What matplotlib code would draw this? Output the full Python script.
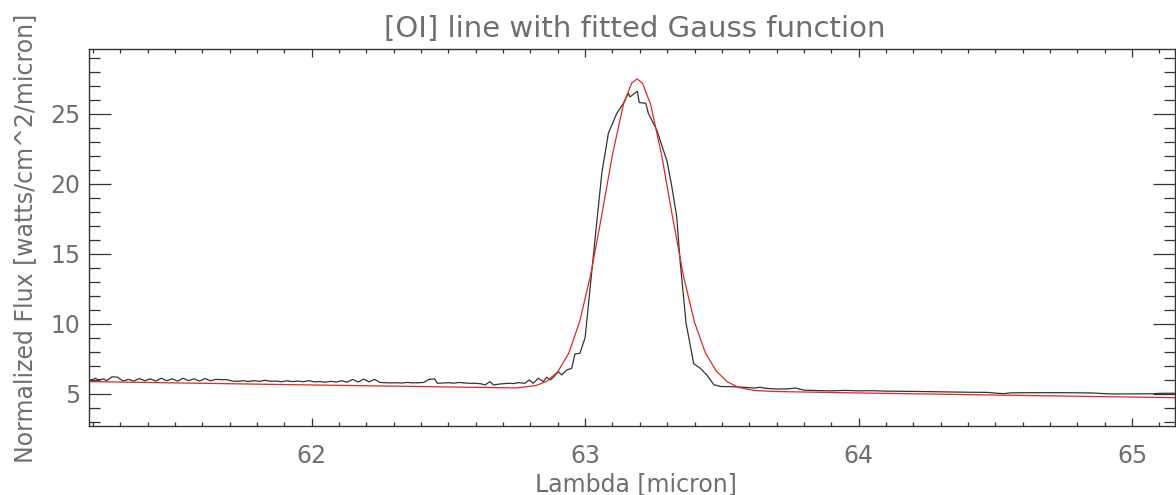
import matplotlib
matplotlib.use("Agg")
import matplotlib.pyplot as plt
from matplotlib.ticker import MultipleLocator

lam_data = [
    61.19, 61.20, 61.21, 61.22, 61.24, 61.25, 61.27, 61.29, 61.31, 61.33,
    61.35, 61.37, 61.39, 61.41, 61.43, 61.45, 61.47, 61.49, 61.51, 61.53,
    61.55, 61.57, 61.59, 61.61, 61.63, 61.65, 61.67, 61.69, 61.71, 61.73,
    61.75, 61.77, 61.79, 61.81, 61.83, 61.85, 61.87, 61.89, 61.91, 61.93,
    61.95, 61.97, 61.99, 62.01, 62.03, 62.05, 62.07, 62.09, 62.11, 62.13,
    62.15, 62.17, 62.19, 62.21, 62.23, 62.25, 62.27, 62.29, 62.31, 62.33,
    62.35, 62.37, 62.39, 62.41, 62.43, 62.45, 62.46, 62.48, 62.50, 62.52,
    62.54, 62.56, 62.58, 62.60, 62.62, 62.634, 62.652, 62.665, 62.689, 62.72,
    62.74, 62.756, 62.78, 62.796, 62.81, 62.829, 62.847, 62.86, 62.872, 62.884,
    62.902, 62.914, 62.933, 62.951, 62.963, 62.981, 63.00, 63.018, 63.036, 63.061,
    63.085, 63.116, 63.14, 63.158, 63.164, 63.191, 63.198, 63.222, 63.231, 63.262,
    63.30, 63.317, 63.335, 63.347, 63.369, 63.397, 63.42, 63.445, 63.471, 63.497,
    63.53, 63.56, 63.59, 63.62, 63.64, 63.66, 63.70, 63.74, 63.77, 63.80,
    63.85, 63.90, 63.95, 64.00, 64.05, 64.10, 64.20, 64.30, 64.40, 64.47,
    64.50, 64.53, 64.56, 64.65, 64.75, 64.85, 64.92, 65.00, 65.07, 65.10,
    65.16,
]
flux_data = [
    5.98, 6.02, 6.10, 5.98, 6.05, 5.92, 6.20, 6.18, 5.90, 6.02,
    5.90, 6.08, 5.92, 6.05, 5.90, 6.10, 5.92, 6.06, 5.90, 6.10,
    5.93, 6.06, 5.90, 6.08, 5.92, 6.02, 6.00, 6.00, 5.90, 5.88,
    5.92, 5.87, 5.93, 5.88, 5.95, 5.88, 5.90, 5.85, 5.92, 5.86,
    5.90, 5.85, 5.93, 5.84, 5.86, 5.82, 5.88, 5.83, 5.92, 5.82,
    6.02, 5.83, 6.04, 5.84, 6.02, 5.80, 5.78, 5.77, 5.78, 5.76,
    5.80, 5.77, 5.78, 5.80, 6.02, 6.05, 5.74, 5.76, 5.78, 5.75,
    5.80, 5.76, 5.74, 5.74, 5.70, 5.62, 5.86, 5.62, 5.69, 5.74,
    5.72, 5.79, 5.74, 5.98, 5.74, 6.10, 5.86, 6.17, 5.98, 6.17,
    6.57, 6.34, 6.69, 6.81, 7.84, 7.88, 9.00, 12.50, 15.98, 20.74,
    23.60, 25.03, 25.74, 26.46, 26.20, 26.60, 25.80, 25.74, 25.03, 23.84,
    21.57, 19.79, 17.64, 14.55, 10.05, 7.14, 6.83, 6.34, 5.63, 5.51,
    5.50, 5.48, 5.44, 5.40, 5.46, 5.38, 5.33, 5.34, 5.40, 5.25,
    5.22, 5.20, 5.23, 5.20, 5.21, 5.18, 5.16, 5.13, 5.10, 5.09,
    5.04, 5.00, 5.06, 5.07, 5.07, 5.05, 4.98, 4.98, 4.99, 5.02,
    5.03,
]

# fitted Gauss function (red curve)
lam_fit = [
    61.19, 62.00, 62.60, 62.75, 62.82, 62.86, 62.90, 62.94, 62.98, 63.02,
    63.06, 63.10, 63.14, 63.17, 63.19, 63.21, 63.24, 63.28, 63.32, 63.36,
    63.40, 63.44, 63.48, 63.52, 63.56, 63.62, 63.70, 64.00, 64.50, 65.16,
]
flux_fit = [
    5.86, 5.62, 5.45, 5.41, 5.58, 5.88, 6.56, 7.88, 10.14, 13.46,
    17.66, 22.07, 25.66, 27.18, 27.48, 27.17, 25.63, 22.02, 17.59, 13.37,
    10.10, 7.90, 6.60, 5.85, 5.45, 5.22, 5.15, 5.05, 4.90, 4.71,
]

plt.rcParams["font.family"] = ["DejaVu Sans"]
txt = "#6e6e6e"
axc = "#333333"

fig = plt.figure(figsize=(11.76, 4.95), dpi=100)
W, H = 1176.0, 495.0
ax = fig.add_axes([89.3 / W, 1 - 425.7 / H, (1175 - 89.3) / W, (425.7 - 49.3) / H])

ax.plot(lam_data, flux_data, color="#333333", lw=0.9)
ax.plot(lam_fit, flux_fit, color="#dc2a20", lw=0.9)

ax.set_xlim(61.187, 65.157)
ax.set_ylim(2.71, 29.6)

ax.xaxis.set_major_locator(MultipleLocator(1))
ax.xaxis.set_minor_locator(MultipleLocator(0.1))
ax.yaxis.set_major_locator(MultipleLocator(5))
ax.yaxis.set_minor_locator(MultipleLocator(1))

ax.tick_params(axis="both", which="both", direction="in", top=True, right=True,
               color=axc, width=0.9, labelcolor=txt, labelsize=17)
ax.tick_params(axis="x", which="major", length=5.8, pad=13.5)
ax.tick_params(axis="x", which="minor", length=2.9)
ax.tick_params(axis="y", which="major", length=15.6, pad=6.5)
ax.tick_params(axis="y", which="minor", length=7.8)

for s in ax.spines.values():
    s.set_color(axc)
    s.set_linewidth(1.0)

fig.text(635 / W, 1 - 37 / H, "[OI] line with fitted Gauss function",
         ha="center", va="baseline", fontsize=21, color=txt)
fig.text(636 / W, 1 - 491 / H, "Lambda [micron]",
         ha="center", va="baseline", fontsize=17, color=txt)
fig.text(25 / W, 1 - 238 / H, "Normalized Flux [watts/cm^2/micron]",
         ha="center", va="center", rotation=90, fontsize=17, color=txt)

fig.savefig("out.png", dpi=100)
